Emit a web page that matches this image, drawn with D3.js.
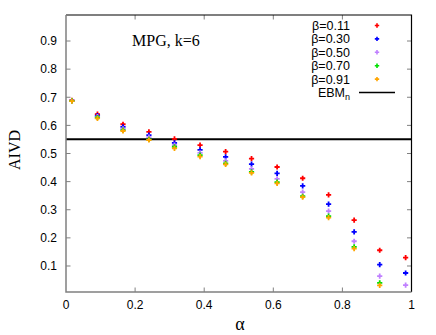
<!DOCTYPE html>
<html>
<head>
<meta charset="utf-8">
<script src="https://cdn.jsdelivr.net/npm/d3@7"></script>
<style>
  body { margin: 0; background: #fff; }
  svg { display: block; }
</style>
</head>
<body>
<div id="chart"></div>
<script>
// alpha values on the x axis
let alphas = [0.017, 0.091, 0.165, 0.240, 0.314, 0.388, 0.462, 0.537, 0.611, 0.685, 0.760, 0.834, 0.908, 0.983];

let betaLabels = ["β=0.11", "β=0.30", "β=0.50", "β=0.70", "β=0.91"];
let betaColors = ["#ff0000", "#0000ff", "#c080ff", "#00e000", "#ffa500"];

let aivd011 = [0.689, 0.640, 0.604, 0.577, 0.552, 0.530, 0.507, 0.482, 0.452, 0.412, 0.353, 0.263, 0.156, 0.130];
let aivd030 = [0.688, 0.635, 0.595, 0.565, 0.538, 0.513, 0.488, 0.462, 0.429, 0.385, 0.320, 0.221, 0.105, 0.075];
let aivd050 = [0.687, 0.631, 0.588, 0.558, 0.530, 0.502, 0.474, 0.445, 0.410, 0.363, 0.295, 0.188, 0.064, 0.032];
let aivd070 = [0.687, 0.628, 0.583, 0.550, 0.524, 0.494, 0.465, 0.435, 0.398, 0.348, 0.277, 0.168, 0.040, null];
let aivd091 = [0.686, 0.625, 0.580, 0.548, 0.518, 0.489, 0.461, 0.431, 0.394, 0.345, 0.272, 0.162, 0.031, null];
let series = [aivd011, aivd030, aivd050, aivd070, aivd091];

let ebm = 0.551;

let xTicks = [0, 0.2, 0.4, 0.6, 0.8, 1];
let yTicks = [0.1, 0.2, 0.3, 0.4, 0.5, 0.6, 0.7, 0.8, 0.9];

let W = 436, H = 335;
let mLeft = 66, mRight = 411.5, mTop = 15, mBottom = 292;

let svg = d3.select("#chart").append("svg")
    .attr("width", W).attr("height", H);

let x = d3.scaleLinear().domain([0, 1]).range([mLeft, mRight]);
let y = d3.scaleLinear().domain([0.0075, 0.9925]).range([mBottom, mTop]);

let sans = "'Liberation Sans', Arial, sans-serif";
let serif = "'Liberation Serif', 'Times New Roman', serif";

svg.append("clipPath").attr("id", "plotclip")
    .append("rect").attr("x", mLeft).attr("y", mTop)
    .attr("width", mRight - mLeft).attr("height", mBottom - mTop);

// ticks (inward, mirrored)
let tl = 4.5;
svg.selectAll(".xt").data(xTicks.filter(d => d > 0 && d < 1)).enter()
    .append("path").attr("class", "xt")
    .attr("d", d => `M${x(d)},${mBottom}v${-tl}M${x(d)},${mTop}v${tl}`)
    .attr("stroke", "#808080").attr("stroke-width", 1);
svg.selectAll(".yt").data(yTicks).enter()
    .append("path").attr("class", "yt")
    .attr("d", d => `M${mLeft},${y(d)}h${tl}M${mRight},${y(d)}h${-tl}`)
    .attr("stroke", "#808080").attr("stroke-width", 1);

// tick labels
svg.selectAll(".xl").data(xTicks).enter()
    .append("text").attr("class", "xl")
    .attr("x", d => x(d)).attr("y", 309)
    .attr("text-anchor", "middle")
    .attr("font-family", sans).attr("font-size", "12px")
    .text(d => d3.format("")(d));
svg.selectAll(".yl").data(yTicks).enter()
    .append("text").attr("class", "yl")
    .attr("x", 57).attr("y", d => y(d) + 4.3)
    .attr("text-anchor", "end")
    .attr("font-family", sans).attr("font-size", "12px")
    .text(d => d3.format(".1f")(d));

// EBM_n line
svg.append("line")
    .attr("x1", mLeft).attr("x2", mRight)
    .attr("y1", y(ebm)).attr("y2", y(ebm))
    .attr("stroke", "#000").attr("stroke-width", 2);

// points
let ps = 2.6;
let gpts = svg.append("g").attr("clip-path", "url(#plotclip)");
series.forEach((vals, i) => {
    gpts.selectAll(".p" + i)
        .data(vals.map((v, j) => [alphas[j], v]).filter(d => d[1] !== null))
        .enter()
        .append("path")
        .attr("d", d => `M${x(d[0]) - ps},${y(d[1])}h${2 * ps}M${x(d[0])},${y(d[1]) - ps}v${2 * ps}`)
        .attr("stroke", betaColors[i])
        .attr("stroke-width", 1.8)
        .attr("fill", "none");
});

// border: left/bottom grey, top/right black
svg.append("path").attr("d", `M${mLeft},${mTop}H${mRight}V${mBottom}`)
    .attr("stroke", "#000").attr("stroke-width", 1.2).attr("fill", "none");
svg.append("path").attr("d", `M${mLeft},${mTop}V${mBottom}H${mRight}`)
    .attr("stroke", "#808080").attr("stroke-width", 1.5).attr("fill", "none");

// title
svg.append("text").attr("x", 132).attr("y", 46)
    .attr("font-family", serif).attr("font-size", "16px")
    .text("MPG, k=6");

// axis labels
svg.append("text")
    .attr("transform", "translate(20,150) rotate(-90)")
    .attr("text-anchor", "middle")
    .attr("font-family", serif).attr("font-size", "16px")
    .text("AIVD");
svg.append("text").attr("x", 240).attr("y", 330)
    .attr("text-anchor", "middle")
    .attr("font-family", serif).attr("font-size", "18px")
    .text("α");

// legend
let lg = svg.append("g");
betaLabels.forEach((lab, i) => {
    let ly = 30 + i * 13.4;
    lg.append("text").attr("x", 350).attr("y", ly)
        .attr("text-anchor", "end")
        .attr("font-family", sans).attr("font-size", "12.5px")
        .text(lab);
    lg.append("path")
        .attr("d", `M${377 - 2.2},${ly - 4.5}h4.4M${377},${ly - 6.7}v4.4`)
        .attr("stroke", betaColors[i]).attr("stroke-width", 1.6);
});
let ey = 30 + 5 * 13.4;
let et = lg.append("text").attr("x", 350).attr("y", ey)
    .attr("text-anchor", "end")
    .attr("font-family", sans).attr("font-size", "12.5px");
et.append("tspan").text("EBM");
et.append("tspan").attr("font-size", "9px").attr("dy", 3).text("n");
lg.append("line").attr("x1", 359).attr("x2", 395)
    .attr("y1", ey - 4.5).attr("y2", ey - 4.5)
    .attr("stroke", "#000").attr("stroke-width", 1.5);
</script>
</body>
</html>
